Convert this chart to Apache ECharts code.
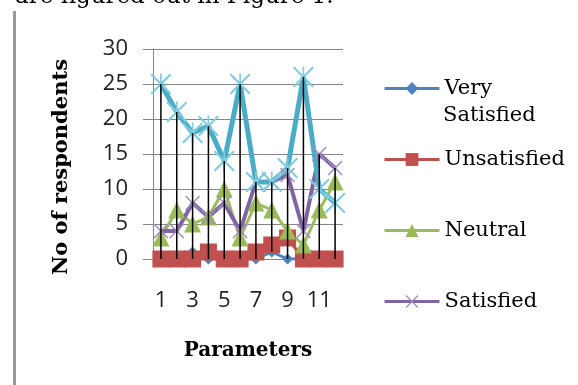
<!DOCTYPE html>
<html>
<head>
<meta charset="utf-8">
<script src="https://cdn.jsdelivr.net/npm/echarts@6/dist/echarts.min.js"></script>
<style>
  html, body { margin: 0; padding: 0; background: #fff; }
  #chart { width: 578px; height: 385px; }
</style>
</head>
<body>
<div id="chart"></div>
<script>
// data
const categories = ['1', '2', '3', '4', '5', '6', '7', '8', '9', '10', '11', '12']
const verySatisfied = [0, 0, 1, 0, 0, 0, 0, 1, 0, 0, 0, 0]
const unsatisfied = [0, 0, 0, 1, 0, 0, 1, 2, 3, 0, 0, 0]
const neutral = [3, 7, 5, 6, 10, 3, 8, 7, 4, 2, 7, 11]
const satisfied = [4, 4, 8, 6, 8, 4, 11, 11, 12, 4, 15, 13]
const fifthSeries = [25, 21, 18, 19, 14, 25, 11, 11, 13, 26, 10, 8]
const yTicks = [0, 5, 10, 15, 20, 25, 30]

const allSeries = [verySatisfied, unsatisfied, neutral, satisfied, fifthSeries]

// high-low lines: min and max across series per category
const highLow = categories.map((c, i) => {
  const vals = allSeries.map(s => s[i])
  return [i, Math.min(...vals), Math.max(...vals)]
})

const xMark = 'path://M0,7L7,0L50,43L93,0L100,7L57,50L100,93L93,100L50,57L7,100L0,93L43,50Z'
const starMark = 'path://M0,7L7,0L50,43L93,0L100,7L57,50L100,93L93,100L50,57L7,100L0,93L43,50Z M46,0L54,0L54,100L46,100Z'

const serif = 'DejaVu Serif'
const sans = 'Open Sans'

const chart = echarts.init(document.getElementById('chart'))

const option = {
  animation: false,
  grid: { left: 153, right: 235, top: 49, bottom: 126 },
  legend: {
    orient: 'vertical',
    left: 383,
    top: 78,
    padding: 0,
    itemWidth: 55,
    itemHeight: 16,
    itemGap: 50,
    data: ['Very Satisfied', 'Unsatisfied', 'Neutral', 'Satisfied'],
    formatter: name => (name === 'Very Satisfied' ? 'Very' : name),
    lineStyle: { width: 3 },
    textStyle: { fontFamily: serif, fontSize: 21, color: '#000', lineHeight: 20 }
  },
  xAxis: {
    type: 'category',
    data: categories,
    boundaryGap: true,
    name: 'Parameters',
    nameLocation: 'middle',
    nameGap: 82,
    nameTextStyle: { fontFamily: serif, fontSize: 20, fontWeight: 'bold', color: '#000' },
    axisLine: { show: true, lineStyle: { color: '#868686', width: 1 } },
    axisTick: { show: false },
    axisLabel: { interval: 1, margin: 31, fontFamily: sans, fontSize: 22, color: '#222' }
  },
  yAxis: {
    type: 'value',
    min: yTicks[0],
    max: yTicks[yTicks.length - 1],
    interval: 5,
    name: 'No of respondents',
    nameLocation: 'middle',
    nameGap: 81,
    nameTextStyle: { fontFamily: serif, fontSize: 21, fontWeight: 'bold', color: '#000', padding: [0, 26, 0, 0] },
    axisLine: { show: true, lineStyle: { color: '#868686', width: 1 } },
    axisTick: { show: true, length: 10, lineStyle: { color: '#868686' } },
    splitLine: { lineStyle: { color: '#868686', width: 1 } },
    axisLabel: { margin: 25, fontFamily: sans, fontSize: 22, color: '#222' }
  },
  series: [
    {
      name: 'Very Satisfied', type: 'line', data: verySatisfied,
      symbol: 'diamond', symbolSize: 11, showAllSymbol: true,
      lineStyle: { color: '#4F81BD', width: 3 },
      itemStyle: { color: '#4F81BD' }
    },
    {
      name: 'Unsatisfied', type: 'line', data: unsatisfied,
      symbol: 'rect', symbolSize: 17, showAllSymbol: true,
      lineStyle: { color: '#C0504D', width: 3 },
      itemStyle: { color: '#C0504D' }
    },
    {
      name: 'Neutral', type: 'line', data: neutral,
      symbol: 'triangle', symbolSize: 17, showAllSymbol: true,
      lineStyle: { color: '#9BBB59', width: 3 },
      itemStyle: { color: '#9BBB59' }
    },
    {
      name: 'Satisfied', type: 'line', data: satisfied,
      symbol: xMark, symbolSize: 15, showAllSymbol: true,
      lineStyle: { color: '#8064A2', width: 4 },
      itemStyle: { color: '#A08CC4' }
    },
    {
      name: 'Series 5', type: 'line', data: fifthSeries,
      symbol: starMark, symbolSize: 21, showAllSymbol: true,
      lineStyle: { color: '#4BACC6', width: 5 },
      itemStyle: { color: '#80CCE2' }
    },
    {
      name: 'High-Low', type: 'custom', z: 10,
      data: highLow,
      renderItem: (params, api) => {
        const top = api.coord([api.value(0), api.value(2)])
        const bottom = api.coord([api.value(0), api.value(1)])
        return {
          type: 'line',
          shape: { x1: top[0], y1: top[1], x2: bottom[0], y2: bottom[1] },
          style: { stroke: '#000', lineWidth: 1.5 }
        }
      }
    }
  ],
  graphic: [
    {
      type: 'text', left: 15, top: -14,
      style: { text: 'are figured out in Figure 1.', font: '23px "DejaVu Serif"', fill: '#000' }
    },
    {
      type: 'rect', shape: { x: 13, y: 11, width: 3, height: 380 },
      style: { fill: '#9a9a9a' }
    },
    {
      type: 'text', left: 443, top: 105,
      style: { text: 'Satisfied', font: '21px "DejaVu Serif"', fill: '#000' }
    }
  ]
}

chart.setOption(option)
</script>
</body>
</html>
